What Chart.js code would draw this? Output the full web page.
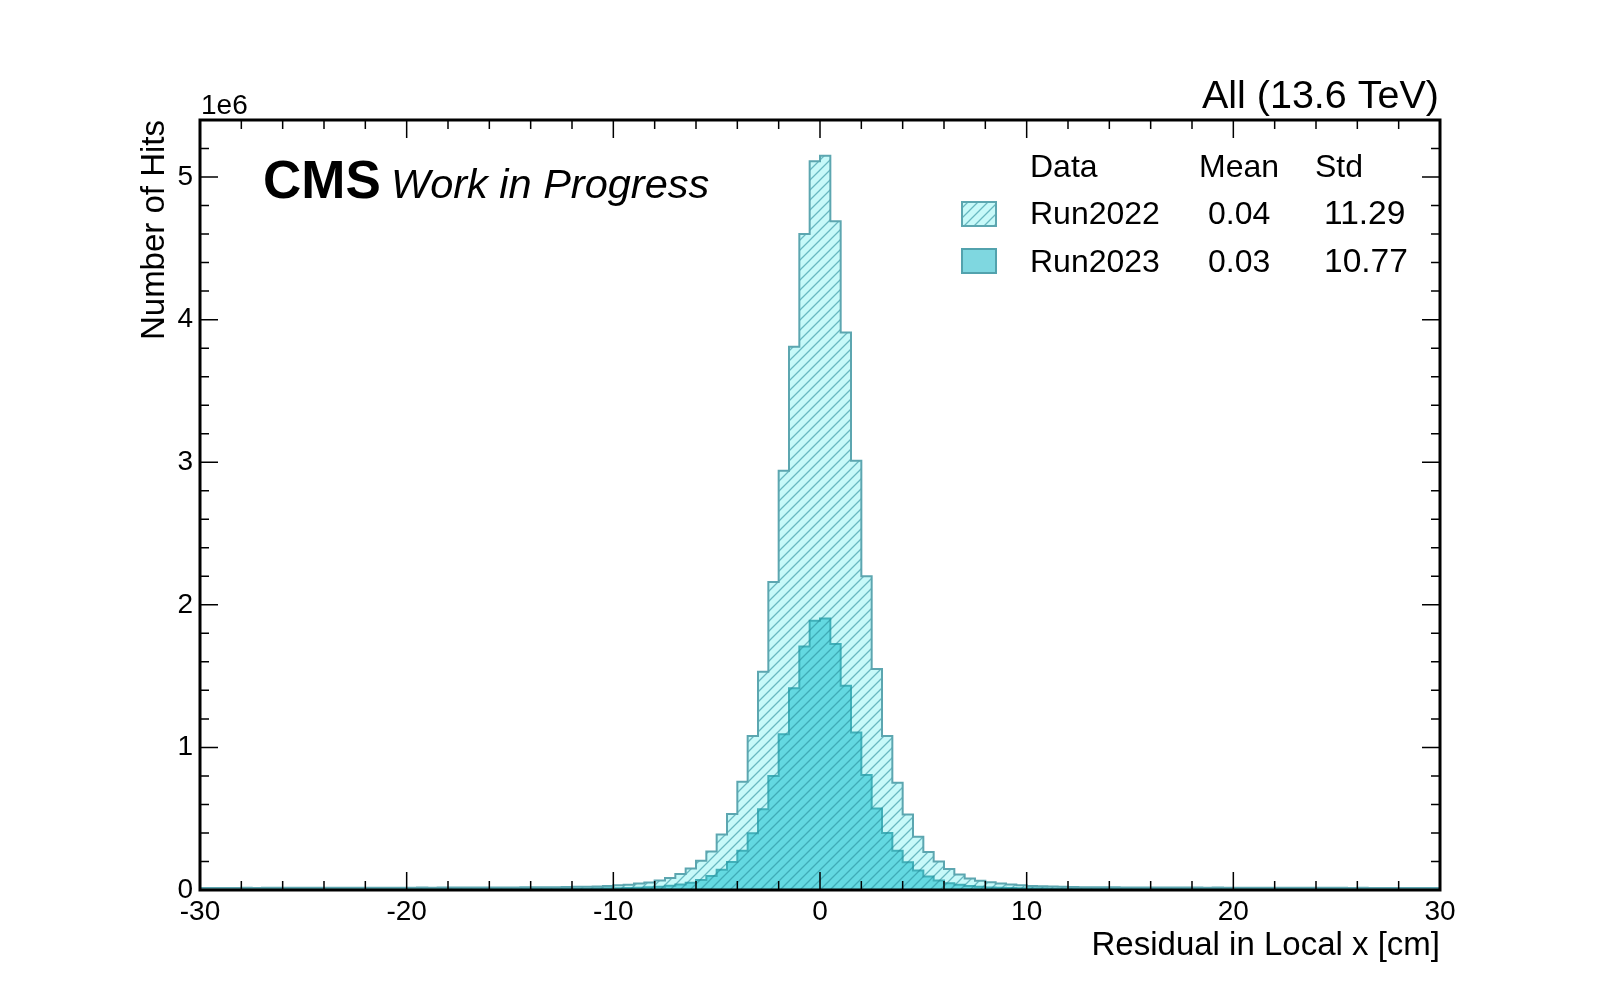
<!DOCTYPE html>
<html>
<head>
<meta charset="utf-8">
<script src="https://cdn.jsdelivr.net/npm/chart.js@4.4.1/dist/chart.umd.min.js"></script>
<style>
  html, body { margin: 0; padding: 0; background: #fff; }
  canvas { display: block; }
</style>
</head>
<body>
<canvas id="residualChart" width="1600" height="1000"></canvas>
<script>
// histogram binning: 120 bins of 0.5 cm from -30 to 30
const binLow = -30;
const binWidth = 0.5;
const nBins = 120;

// Run2022, counts per bin in units of 1e6
const run2022 = [
    // -30 .. -15
    0.014, 0.014, 0.014, 0.014, 0.015, 0.014, 0.015, 0.015, 0.015, 0.015,
    0.015, 0.015, 0.015, 0.016, 0.015, 0.016, 0.016, 0.016, 0.016, 0.016,
    0.016, 0.017, 0.016, 0.017, 0.017, 0.017, 0.017, 0.018, 0.018, 0.018,
    // -15 .. -10
    0.018, 0.019, 0.019, 0.020, 0.020, 0.021, 0.022, 0.023, 0.024, 0.028,
    // -10 .. 0
    0.033, 0.037, 0.045, 0.053, 0.067, 0.084, 0.112, 0.150, 0.205, 0.270,
    0.390, 0.533, 0.760, 1.080, 1.530, 2.160, 2.940, 3.810, 4.600, 5.110,
    // 0 .. 10
    5.150, 4.690, 3.910, 3.010, 2.200, 1.550, 1.080, 0.753, 0.530, 0.374,
    0.267, 0.199, 0.147, 0.108, 0.080, 0.065, 0.055, 0.045, 0.038, 0.033,
    // 10 .. 15
    0.028, 0.026, 0.024, 0.022, 0.021, 0.020, 0.020, 0.019, 0.019, 0.018,
    // 15 .. 30
    0.018, 0.018, 0.017, 0.018, 0.017, 0.017, 0.017, 0.016, 0.017, 0.016,
    0.016, 0.016, 0.016, 0.015, 0.016, 0.015, 0.015, 0.015, 0.015, 0.015,
    0.015, 0.014, 0.015, 0.014, 0.014, 0.014, 0.014, 0.014, 0.014, 0.014
];

// Run2023, counts per bin in units of 1e6
const run2023 = [
    // -30 .. -15
    0.007, 0.007, 0.007, 0.007, 0.007, 0.007, 0.007, 0.008, 0.007, 0.008,
    0.008, 0.008, 0.008, 0.008, 0.008, 0.008, 0.008, 0.008, 0.008, 0.008,
    0.008, 0.009, 0.008, 0.009, 0.009, 0.009, 0.009, 0.009, 0.009, 0.009,
    // -15 .. -10
    0.009, 0.010, 0.010, 0.010, 0.010, 0.011, 0.011, 0.011, 0.012, 0.012,
    // -10 .. 0
    0.013, 0.014, 0.016, 0.019, 0.023, 0.029, 0.038, 0.051, 0.070, 0.099,
    0.142, 0.197, 0.275, 0.398, 0.566, 0.800, 1.093, 1.415, 1.707, 1.888,
    // 0 .. 10
    1.904, 1.726, 1.432, 1.104, 0.807, 0.572, 0.400, 0.275, 0.194, 0.136,
    0.094, 0.067, 0.047, 0.036, 0.028, 0.022, 0.018, 0.016, 0.014, 0.013,
    // 10 .. 15
    0.012, 0.012, 0.011, 0.011, 0.011, 0.010, 0.010, 0.010, 0.010, 0.009,
    // 15 .. 30
    0.009, 0.009, 0.009, 0.009, 0.009, 0.009, 0.009, 0.008, 0.009, 0.008,
    0.008, 0.008, 0.008, 0.008, 0.008, 0.008, 0.008, 0.008, 0.007, 0.008,
    0.007, 0.007, 0.007, 0.007, 0.007, 0.007, 0.007, 0.007, 0.007, 0.007
];

const xTickValues = [-30, -20, -10, 0, 10, 20, 30];
const yTickValues = [0, 1, 2, 3, 4, 5];

const legendHeader = ['Data', 'Mean', 'Std'];
const legendNames = ['Run2022', 'Run2023'];
const legendMeans = ['0.04', '0.03'];
const legendStds = ['11.29', '10.77'];

const FONT = '"Liberation Sans", Arial, Helvetica, sans-serif';

// step points: left edge of every bin + closing point at the right end
function toSteps(values) {
    const pts = [{ x: binLow, y: 0 }];
    values.forEach((v, i) => pts.push({ x: binLow + i * binWidth, y: v }));
    const last = binLow + nBins * binWidth;
    pts.push({ x: last, y: values[values.length - 1] });
    pts.push({ x: last, y: 0 });
    return pts;
}

// diagonal hatch "///"
function makeHatch(bg, line, size) {
    const c = document.createElement('canvas');
    c.width = size; c.height = size;
    const g = c.getContext('2d');
    g.fillStyle = bg;
    g.fillRect(0, 0, size, size);
    g.strokeStyle = line;
    g.lineWidth = 1.3;
    g.beginPath();
    g.moveTo(-2, 2); g.lineTo(2, -2);
    g.moveTo(0, size); g.lineTo(size, 0);
    g.moveTo(size - 2, size + 2); g.lineTo(size + 2, size - 2);
    g.stroke();
    return document.getElementById('residualChart').getContext('2d').createPattern(c, 'repeat');
}

const hatch2022 = makeHatch('rgba(0, 229, 229, 0.22)', 'rgba(40, 140, 155, 0.6)', 10);
const fill2023 = '#7fd7e0';
const edge2022 = '#5ca6b0';
const edge2023 = '#52a2ad';

// ticks inside the frame, frame, labels and legend
const decorPlugin = {
    id: 'decor',
    afterDraw(chart) {
        const ctx = chart.ctx;
        const a = chart.chartArea;
        const xs = chart.scales.x, ys = chart.scales.y;
        ctx.save();
        ctx.strokeStyle = '#000';
        ctx.lineWidth = 1.5;
        ctx.beginPath();
        for (let v = -30; v <= 30; v += 2) {
            const px = xs.getPixelForValue(v);
            const len = (v % 10 === 0) ? 18 : 9;
            ctx.moveTo(px, a.bottom); ctx.lineTo(px, a.bottom - len);
            ctx.moveTo(px, a.top); ctx.lineTo(px, a.top + len);
        }
        for (let k = 0; k <= 27; k++) {
            const v = k * 0.2;
            const py = ys.getPixelForValue(v);
            const len = (k % 5 === 0) ? 18 : 9;
            ctx.moveTo(a.left, py); ctx.lineTo(a.left + len, py);
            ctx.moveTo(a.right, py); ctx.lineTo(a.right - len, py);
        }
        ctx.stroke();

        ctx.lineWidth = 3;
        ctx.strokeRect(a.left, a.top, a.right - a.left, a.bottom - a.top);

        ctx.fillStyle = '#000';
        ctx.textBaseline = 'alphabetic';
        ctx.textAlign = 'left';
        ctx.font = '28px ' + FONT;
        ctx.fillText('1e6', 201, 114);

        ctx.textAlign = 'right';
        ctx.font = '39.5px ' + FONT;
        ctx.fillText('All (13.6 TeV)', a.right - 1, 108);

        ctx.textAlign = 'left';
        ctx.font = 'bold 53px ' + FONT;
        ctx.fillText('CMS', 263, 198);
        ctx.font = 'italic 41.5px ' + FONT;
        ctx.fillText('Work in Progress', 391, 198);

        // legend
        ctx.font = '32px ' + FONT;
        ctx.fillText(legendHeader[0], 1030, 177);
        ctx.fillText(legendHeader[1], 1199, 177);
        ctx.fillText(legendHeader[2], 1315, 177);
        const rowBase = [224, 272];
        const boxTop = [202, 249];
        const boxFill = [hatch2022, fill2023];
        const boxEdge = [edge2022, edge2023];
        for (let i = 0; i < 2; i++) {
            ctx.fillStyle = '#fff';
            ctx.fillRect(962, boxTop[i], 34, 24);
            ctx.fillStyle = boxFill[i];
            ctx.fillRect(962, boxTop[i], 34, 24);
            ctx.strokeStyle = boxEdge[i];
            ctx.lineWidth = 2;
            ctx.strokeRect(962, boxTop[i], 34, 24);
            ctx.fillStyle = '#000';
            ctx.font = '32px ' + FONT;
            ctx.fillText(legendNames[i], 1030, rowBase[i]);
            ctx.fillText(legendMeans[i], 1208, rowBase[i]);
            ctx.font = '33.5px ' + FONT;
            ctx.fillText(legendStds[i], 1324, rowBase[i]);
        }
        ctx.restore();
    }
};

new Chart(document.getElementById('residualChart').getContext('2d'), {
    type: 'line',
    data: {
        datasets: [
            {
                label: 'Run2022',
                data: toSteps(run2022),
                stepped: 'before',
                borderColor: edge2022,
                backgroundColor: hatch2022,
                borderWidth: 2,
                pointRadius: 0,
                fill: 'origin'
            },
            {
                label: 'Run2023',
                data: toSteps(run2023),
                stepped: 'before',
                borderColor: edge2023,
                backgroundColor: fill2023,
                borderWidth: 2,
                pointRadius: 0,
                fill: 'origin'
            }
        ]
    },
    options: {
        responsive: false,
        animation: false,
        devicePixelRatio: 1,
        layout: { padding: { top: 120, right: 160, left: 0, bottom: 0 } },
        plugins: {
            legend: { display: false },
            tooltip: { enabled: false }
        },
        scales: {
            x: {
                type: 'linear',
                min: -30,
                max: 30,
                afterFit: s => { s.height = 110; },
                afterBuildTicks: s => { s.ticks = xTickValues.map(v => ({ value: v })); },
                grid: { display: false, drawTicks: false },
                border: { display: false },
                ticks: {
                    padding: 5,
                    color: '#000',
                    font: { family: FONT, size: 28 },
                    maxRotation: 0
                },
                title: {
                    display: true,
                    text: 'Residual in Local x [cm]',
                    align: 'end',
                    color: '#000',
                    font: { family: FONT, size: 33 },
                    padding: { top: 0, bottom: 34 }
                }
            },
            y: {
                type: 'linear',
                min: 0,
                max: 5.4,
                afterFit: s => { s.width = 200; },
                afterBuildTicks: s => { s.ticks = yTickValues.map(v => ({ value: v })); },
                grid: { display: false, drawTicks: false },
                border: { display: false },
                ticks: {
                    padding: 7,
                    color: '#000',
                    font: { family: FONT, size: 28 }
                },
                title: {
                    display: true,
                    text: 'Number of Hits',
                    align: 'end',
                    color: '#000',
                    font: { family: FONT, size: 33 },
                    padding: { top: 135, bottom: 0 }
                }
            }
        }
    },
    plugins: [decorPlugin]
});
</script>
</body>
</html>
